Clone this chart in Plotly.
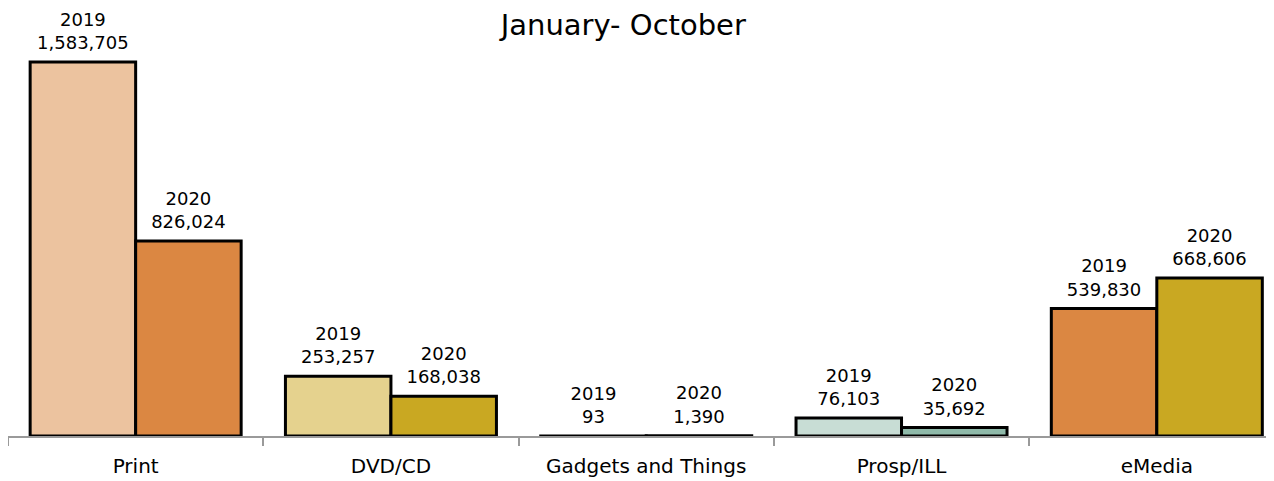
import plotly.graph_objects as go

categories = ["Print", "DVD/CD", "Gadgets and Things", "Prosp/ILL", "eMedia"]
values_2019 = [1583705, 253257, 93, 76103, 539830]
values_2020 = [826024, 168038, 1390, 35692, 668606]
colors_2019 = ["#ECC39F", "#E5D28E", "#C9A822", "#C8DDD5", "#DB8742"]
colors_2020 = ["#DB8742", "#C9A822", "#C9A822", "#8FBAAA", "#C9A822"]
title_text = "January- October"

FONT = "DejaVu Sans"

def labels(year, vals):
    return [f"{year}<br>{v:,}" for v in vals]

series = [("2019", values_2019, colors_2019), ("2020", values_2020, colors_2020)]

fig = go.Figure()
for name, vals, cols in series:
    fig.add_trace(go.Bar(
        x=categories, y=vals, name=name,
        offsetgroup=name, alignmentgroup="g",
        marker=dict(color=cols, line=dict(color="#000000", width=3)),
        cliponaxis=False,
    ))
for name, vals, cols in series:
    fig.add_trace(go.Scatter(
        x=categories, y=vals, name=name + " labels",
        offsetgroup=name, alignmentgroup="g",
        mode="markers+text",
        marker=dict(size=12, opacity=0),
        text=labels(name, vals), textposition="top center",
        textfont=dict(family=FONT, size=18, color="#000000"),
        cliponaxis=False, hoverinfo="skip",
    ))

fig.update_layout(
    width=1266, height=473,
    margin=dict(l=0, r=0, t=0, b=45),
    paper_bgcolor="white", plot_bgcolor="white",
    barmode="group", bargap=0.1735, bargroupgap=0,
    scattermode="group", scattergap=0.1735,
    showlegend=False,
    title=dict(text=title_text, x=0.486, xanchor="center", y=0.964, yanchor="middle",
               font=dict(family=FONT, size=29, color="#000000")),
    font=dict(family=FONT, size=20, color="#000000"),
    xaxis=dict(
        range=[-0.5, 4.459],
        showline=True, linecolor="#9A9A9A", linewidth=2,
        ticks="outside", tickson="boundaries", ticklen=8, tickcolor="#9A9A9A", tickwidth=2,
        tickfont=dict(family=FONT, size=20, color="#000000"),
        ticklabelstandoff=11,
        showgrid=False,
    ),
    yaxis=dict(range=[0, 1812360], visible=False, showgrid=False),
)

fig.write_html("out.html")
